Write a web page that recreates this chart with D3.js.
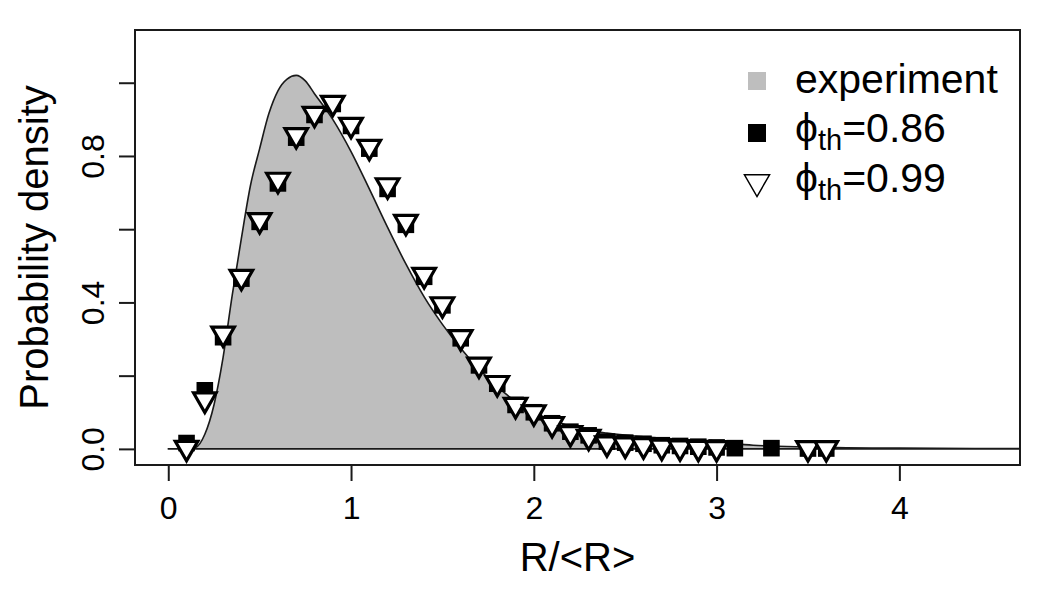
<!DOCTYPE html>
<html>
<head>
<meta charset="utf-8">
<script src="https://cdn.jsdelivr.net/npm/d3@7"></script>
<style>
  html, body { margin: 0; padding: 0; background: #fff; }
  svg { display: block; font-family: "Liberation Sans", Arial, Helvetica, sans-serif; }
</style>
</head>
<body>
<svg id="chart" width="1050" height="600"></svg>
<script>
// ---- data ----
const curveX = [0, 0.1, 0.15, 0.2, 0.25, 0.3, 0.35, 0.4, 0.45, 0.5, 0.55, 0.6, 0.65, 0.7, 0.75, 0.8, 0.9, 1.0, 1.1, 1.2, 1.3, 1.4, 1.5, 1.6, 1.7, 1.8, 1.9, 2.0, 2.2, 2.4, 2.6, 2.8, 3.0, 3.2, 3.5, 4.0, 4.7];
const curveY = [0, 0, 0.004, 0.04, 0.12, 0.25, 0.42, 0.575, 0.72, 0.82, 0.915, 0.978, 1.01, 1.02, 1.005, 0.97, 0.9, 0.812, 0.71, 0.605, 0.505, 0.415, 0.34, 0.275, 0.218, 0.17, 0.13, 0.1, 0.062, 0.043, 0.033, 0.026, 0.019, 0.01, 0.005, 0.002, 0.001];

const sqX = [0.1, 0.2, 0.3, 0.4, 0.5, 0.6, 0.7, 0.8, 0.9, 1.0, 1.1, 1.2, 1.3, 1.4, 1.5, 1.6, 1.7, 1.8, 1.9, 2.0, 2.1, 2.2, 2.3, 2.4, 2.5, 2.6, 2.7, 2.8, 2.9, 3.0, 3.1, 3.3, 3.5, 3.6];
const sqY = [0.016, 0.16, 0.305, 0.465, 0.62, 0.725, 0.85, 0.912, 0.942, 0.882, 0.82, 0.71, 0.612, 0.47, 0.392, 0.302, 0.228, 0.178, 0.12, 0.1, 0.07, 0.047, 0.037, 0.02, 0.017, 0.014, 0.01, 0.008, 0.006, 0.004, 0.002, 0.002, 0.001, 0.001];

const triX = [0.1, 0.2, 0.3, 0.4, 0.5, 0.6, 0.7, 0.8, 0.9, 1.0, 1.1, 1.2, 1.3, 1.4, 1.5, 1.6, 1.7, 1.8, 1.9, 2.0, 2.1, 2.2, 2.3, 2.4, 2.5, 2.6, 2.7, 2.8, 2.9, 3.0, 3.5, 3.6];
const triY = [0.003, 0.135, 0.315, 0.47, 0.625, 0.735, 0.857, 0.915, 0.945, 0.885, 0.825, 0.72, 0.62, 0.475, 0.395, 0.305, 0.23, 0.18, 0.12, 0.1, 0.068, 0.043, 0.033, 0.015, 0.012, 0.01, 0.006, 0.004, 0.003, 0.002, 0.002, 0.002];

const xTicks = [0, 1, 2, 3, 4];
const yTicks = [0, 0.2, 0.4, 0.6, 0.8, 1.0];
const yTickLabels = ["0.0", "", "0.4", "", "0.8", ""];
const legendLabels = ["experiment", "0.86", "0.99"];

// ---- layout ----
const svg = d3.select("#chart");
const L = 135, R = 1020, T = 30, B = 465;
const x = d3.scaleLinear().domain([-0.182, 4.66]).range([L, R]);
const y = d3.scaleLinear().domain([-0.044, 1.144]).range([B, T]);
const ink = "#1a1a1a";

svg.append("rect").attr("width", 1050).attr("height", 600).attr("fill", "#fff");

svg.append("defs").append("clipPath").attr("id", "plotclip")
  .append("rect").attr("x", L).attr("y", T).attr("width", R - L).attr("height", B - T);

const plot = svg.append("g").attr("clip-path", "url(#plotclip)");

// experiment density (filled polygon)
const curveData = curveX.map((v, i) => [v, curveY[i]]);
const area = d3.area()
  .x(d => x(d[0])).y0(y(0)).y1(d => y(d[1]))
  .curve(d3.curveMonotoneX);
plot.append("path")
  .datum(curveData)
  .attr("d", area)
  .attr("fill", "#bebebe")
  .attr("stroke", ink)
  .attr("stroke-width", 1.6)
  .attr("stroke-linejoin", "round");

// squares (phi = 0.86)
const sqHalf = 8.3;
plot.selectAll("rect.sq")
  .data(sqX.map((v, i) => [v, sqY[i]]))
  .join("rect")
  .attr("class", "sq")
  .attr("x", d => x(d[0]) - sqHalf)
  .attr("y", d => y(d[1]) - sqHalf)
  .attr("width", sqHalf * 2)
  .attr("height", sqHalf * 2)
  .attr("fill", "#000");

// down triangles (phi = 0.99)
function downTri(r) {
  const hx = r * Math.sqrt(3) / 2;
  return `M${-hx},${-r / 2}L${hx},${-r / 2}L0,${r}Z`;
}
plot.selectAll("path.tri")
  .data(triX.map((v, i) => [v, triY[i]]))
  .join("path")
  .attr("class", "tri")
  .attr("transform", d => `translate(${x(d[0])},${y(d[1])})`)
  .attr("d", downTri(13))
  .attr("fill", "#fff")
  .attr("stroke", "#000")
  .attr("stroke-width", 3.2)
  .attr("stroke-linejoin", "miter");

// box
svg.append("rect")
  .attr("x", L).attr("y", T).attr("width", R - L).attr("height", B - T)
  .attr("fill", "none").attr("stroke", ink).attr("stroke-width", 2);

// x axis
const xAxis = svg.append("g")
  .attr("transform", `translate(0,${B})`)
  .call(d3.axisBottom(x).tickValues(xTicks).tickSize(16).tickPadding(15).tickFormat(d3.format("d")));
xAxis.select(".domain").remove();
xAxis.selectAll(".tick line").attr("stroke", ink).attr("stroke-width", 2);
xAxis.selectAll(".tick text")
  .attr("fill", "#000")
  .style("font-size", "32px")
  .style("font-family", "Liberation Sans, Arial, sans-serif");

// y axis
const yAxis = svg.append("g")
  .attr("transform", `translate(${L},0)`)
  .call(d3.axisLeft(y).tickValues(yTicks).tickSize(16).tickFormat((d, i) => yTickLabels[i]));
yAxis.select(".domain").remove();
yAxis.selectAll(".tick line").attr("stroke", ink).attr("stroke-width", 2);
yAxis.selectAll(".tick text")
  .attr("fill", "#000")
  .attr("transform", "rotate(-90)")
  .attr("x", 0).attr("y", -31).attr("dy", 0)
  .attr("text-anchor", "middle")
  .style("font-size", "32px")
  .style("font-family", "Liberation Sans, Arial, sans-serif");

// axis titles
svg.append("text")
  .attr("x", (L + R) / 2).attr("y", 571)
  .attr("text-anchor", "middle")
  .style("font-size", "40px")
  .text("R/<R>");

svg.append("text")
  .attr("transform", `translate(48,${(T + B) / 2}) rotate(-90)`)
  .attr("text-anchor", "middle")
  .style("font-size", "40px")
  .text("Probability density");

// legend
const lg = svg.append("g");
const lx = 757, textX = 795;
const rows = [81, 133, 183];
lg.append("rect").attr("x", lx - 9).attr("y", rows[0] - 9).attr("width", 18).attr("height", 18).attr("fill", "#bebebe");
lg.append("rect").attr("x", lx - 9).attr("y", rows[1] - 9).attr("width", 18).attr("height", 18).attr("fill", "#000");
lg.append("path").attr("transform", `translate(${lx},${rows[2] - 1})`).attr("d", downTri(14.5))
  .attr("fill", "#fff").attr("stroke", "#000").attr("stroke-width", 1.5);

lg.append("text").attr("x", textX).attr("y", rows[0] + 12).style("font-size", "41px").text(legendLabels[0]);
[1, 2].forEach(k => {
  const t = lg.append("text").attr("x", textX).attr("y", rows[k] + 9).style("font-size", "41px");
  t.append("tspan").text("\u03D5");
  t.append("tspan").attr("dy", 8).style("font-size", "29px").text("th");
  t.append("tspan").attr("dy", -8).text("=" + legendLabels[k]);
});
</script>
</body>
</html>
